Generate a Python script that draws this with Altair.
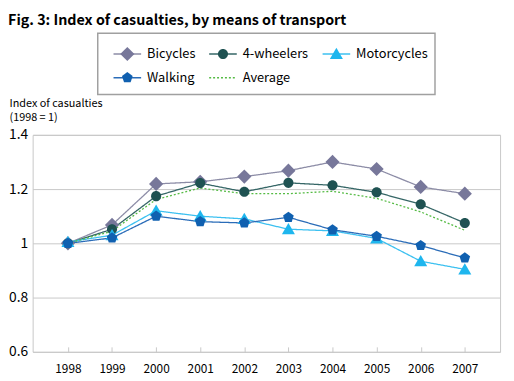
import altair as alt
import pandas as pd

years = ["1998", "1999", "2000", "2001", "2002", "2003", "2004", "2005", "2006", "2007"]
series_names = ["Bicycles", "4-wheelers", "Motorcycles", "Walking", "Average"]
bicycles = [1.0, 1.068, 1.219, 1.227, 1.246, 1.268, 1.300, 1.274, 1.208, 1.183]
four_wheelers = [1.0, 1.052, 1.174, 1.222, 1.190, 1.223, 1.214, 1.188, 1.144, 1.075]
motorcycles = [1.005, 1.030, 1.120, 1.100, 1.090, 1.052, 1.046, 1.018, 0.934, 0.904]
walking = [1.0, 1.020, 1.100, 1.080, 1.075, 1.096, 1.050, 1.026, 0.992, 0.946]
average = [1.0, 1.045, 1.162, 1.204, 1.183, 1.183, 1.192, 1.166, 1.116, 1.048]
y_ticks = [0.6, 0.8, 1.0, 1.2, 1.4]

line_colors = ["#8C8CA6", "#356666", "#3CC0F0", "#2A6CB8", "#55BB44"]
marker_colors = ["#77779A", "#1F5252", "#1EB6EE", "#1060B0", "#55BB44"]
dashes = [[1, 0], [1, 0], [1, 0], [1, 0], [2, 2]]
# unit-scaled marker glyphs (unit = sqrt(size)/2 px)
shape_paths = [
    "M0,-1.2L1.2,0L0,1.2L-1.2,0Z",
    "M-0.85,0A0.85,0.85,0,1,1,0.85,0A0.85,0.85,0,1,1,-0.85,0Z",
    "M0,-1.05L1.1,0.85L-1.1,0.85Z",
    "M0,-0.95L0.9,-0.3L0.56,0.78L-0.56,0.78L-0.9,-0.3Z",
]
legend_col = [0, 1, 2, 0, 1]
legend_row = [0, 0, 0, 1, 1]

FONT = "Noto Sans CJK KR, sans-serif"

values = [bicycles, four_wheelers, motorcycles, walking, average]
rows = []
for name, vals in zip(series_names, values):
    for yr, v in zip(years, vals):
        rows.append({"year": yr, "series": name, "value": v})
df = pd.DataFrame(rows)
leg = pd.DataFrame({"series": series_names, "col": legend_col, "row": legend_row})

stroke_scale = alt.Scale(domain=series_names, range=line_colors)
fill_scale = alt.Scale(domain=series_names, range=marker_colors)
dash_scale = alt.Scale(domain=series_names, range=dashes)
shape_scale = alt.Scale(domain=series_names[:4], range=shape_paths)

x_enc = alt.X(
    "year:O",
    scale=alt.Scale(type="point", padding=0.8),
    axis=alt.Axis(
        title=None, labelAngle=0, domain=False, offset=-5, tickSize=5,
        tickColor="#C8C8C8", labelPadding=12, labelFontSize=12, labelColor="#000",
        labelFont=FONT, grid=False,
    ),
)
y_enc = alt.Y(
    "value:Q",
    scale=alt.Scale(domain=[0.6, 1.4], nice=False, zero=False),
    axis=alt.Axis(
        values=y_ticks, format="~g", grid=True, gridColor="#C8C8C8", domain=False,
        ticks=False, labelFontSize=14, labelColor="#000", labelFont=FONT, labelPadding=5,
        title=["Index of casualties", "(1998 = 1)"], titleAngle=0, titleAlign="left",
        titleBaseline="top", titleX=-24, titleY=-38, titleFontSize=11,
        titleFontWeight="normal", titleFont=FONT, titleLineHeight=14, titleColor="#000",
    ),
)

lines = alt.Chart(df).mark_line(strokeWidth=1.3).encode(
    x=x_enc, y=y_enc,
    stroke=alt.Stroke("series:N", scale=stroke_scale, legend=None),
    strokeDash=alt.StrokeDash("series:N", scale=dash_scale, legend=None),
    detail="series:N",
)
points = alt.Chart(df[df.series != "Average"]).mark_point(
    filled=True, opacity=1, size=144, strokeWidth=0
).encode(
    x=x_enc, y=y_enc,
    fill=alt.Fill("series:N", scale=fill_scale, legend=None),
    shape=alt.Shape("series:N", scale=shape_scale, legend=None),
)
main = alt.layer(lines, points).properties(
    width=474, height=220, view=alt.ViewBackground(stroke="#C8C8C8", strokeWidth=1)
)

lx = alt.X("col:Q", scale=alt.Scale(domain=[0, 1, 2], range=[30, 127, 242]), axis=None)
ly = alt.Y("row:Q", scale=alt.Scale(domain=[0, 1], range=[21, 45]), axis=None)
leg_lines = alt.Chart(leg).mark_rule(strokeWidth=1.5, xOffset=-14, x2Offset=14).encode(
    x=lx, x2="col:Q", y=ly,
    stroke=alt.Stroke("series:N", scale=stroke_scale, legend=None),
    strokeDash=alt.StrokeDash("series:N", scale=dash_scale, legend=None),
)
leg_points = alt.Chart(leg[leg.series != "Average"]).mark_point(
    filled=True, opacity=1, size=144, strokeWidth=0
).encode(
    x=lx, y=ly,
    fill=alt.Fill("series:N", scale=fill_scale, legend=None),
    shape=alt.Shape("series:N", scale=shape_scale, legend=None),
)
leg_text = alt.Chart(leg).mark_text(
    align="left", baseline="middle", dx=20, fontSize=13, font=FONT, color="#000"
).encode(x=lx, y=ly, text="series:N")
legend_box = alt.layer(leg_lines, leg_points, leg_text).properties(
    width=342, height=62, view=alt.ViewBackground(stroke="#A0A0A0", strokeWidth=1.5)
)

chart = alt.vconcat(legend_box, main, spacing=41, center=True, bounds="flush").properties(
    title=alt.Title(
        "Fig. 3: Index of casualties, by means of transport", anchor="start",
        fontSize=14.5, font=FONT, fontWeight="bold", color="#000", offset=4, frame="bounds",
    ),
    padding={"left": 0, "top": 2, "right": 5, "bottom": 5},
).configure_view(stroke=None)

chart.save("out.html", embed_options={"renderer": "svg", "actions": False})
